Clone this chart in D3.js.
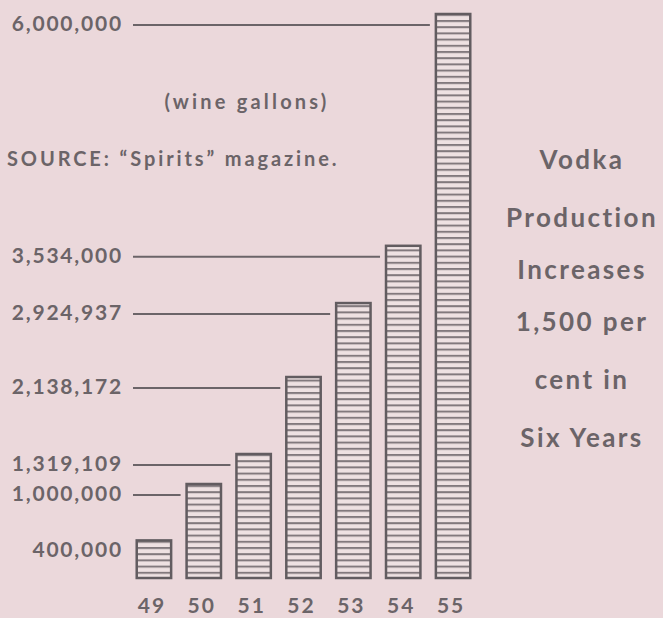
<!DOCTYPE html>
<meta charset="utf-8">
<head>
<style>
  body { margin: 0; background: #ebd8db; }
  svg { display: block; }
  text { fill: #6b6468; font-family: Lato, "DejaVu Sans", sans-serif; font-weight: 700; }
</style>
<script src="https://d3js.org/d3.v7.min.js"></script>
</head>
<body>
<div id="chart"></div>
<script>
// vodka production, wine gallons, 1949-1955
var years = ["49", "50", "51", "52", "53", "54", "55"];
var gallons = [400000, 1000000, 1319109, 2138172, 2924937, 3534000, 6000000];
var titleLines = ["Vodka", "Production", "Increases", "1,500 per", "cent in", "Six Years"];
var unitNote = "(wine gallons)";
var sourceNote = "SOURCE: \u201cSpirits\u201d magazine.";

var width = 663, height = 618;
var ink = "#6b6468";
var fmt = d3.format(",");

var svg = d3.select("#chart").append("svg")
    .attr("width", width)
    .attr("height", height);

svg.append("rect").attr("width", width).attr("height", height).attr("fill", "#ebd8db");

var x = d3.scaleBand()
    .domain(years)
    .range([129, 478])
    .paddingInner(0.31)
    .paddingOuter(0.155);

var y = d3.scaleLinear()
    .domain([0, 6000000])
    .range([578, 14]);

// horizontal rule pattern inside the bars
var pat = svg.append("defs").append("pattern")
    .attr("id", "stripes")
    .attr("patternUnits", "userSpaceOnUse")
    .attr("width", 10)
    .attr("height", 6.2)
    .attr("patternTransform", "translate(0," + y(0) + ")");
pat.append("rect").attr("width", 10).attr("height", 6.2).attr("fill", "#eee1e2");
pat.append("rect").attr("y", 0).attr("width", 10).attr("height", 2).attr("fill", "#82797d");

var data = years.map(function (d, i) { return { year: d, value: gallons[i] }; });

// leader lines from the labels to each bar
svg.append("g").selectAll("line")
    .data(data.filter(function (d) { return d.value > 400000; }))
    .enter().append("line")
    .attr("x1", 133)
    .attr("x2", function (d) { return x(d.year) - 6; })
    .attr("y1", function (d) { return y(d.value) + 11; })
    .attr("y2", function (d) { return y(d.value) + 11; })
    .attr("stroke", ink)
    .attr("stroke-width", 2);

svg.append("g").selectAll("text")
    .data(data)
    .enter().append("text")
    .attr("x", 123)
    .attr("y", function (d) { return y(d.value) + 17; })
    .attr("text-anchor", "end")
    .style("font-size", "21px")
    .style("letter-spacing", "1.8px")
    .text(function (d) { return fmt(d.value); });

svg.append("g").selectAll("rect")
    .data(data)
    .enter().append("rect")
    .attr("x", function (d) { return x(d.year); })
    .attr("y", function (d) { return y(d.value); })
    .attr("width", x.bandwidth())
    .attr("height", function (d) { return y(0) - y(d.value); })
    .attr("fill", "url(#stripes)")
    .attr("stroke", "#625c60")
    .attr("stroke-width", 2.5);

// year labels
svg.append("g").selectAll("text")
    .data(years)
    .enter().append("text")
    .attr("x", function (d) { return x(d) + x.bandwidth() / 2 - 2; })
    .attr("y", 613)
    .attr("text-anchor", "middle")
    .style("font-size", "21px")
    .style("letter-spacing", "2px")
    .text(function (d) { return d; });

svg.append("text")
    .attr("x", 247).attr("y", 109)
    .attr("text-anchor", "middle")
    .style("font-size", "20px")
    .style("letter-spacing", "3.2px")
    .text(unitNote);

svg.append("text")
    .attr("x", 7).attr("y", 166)
    .style("font-size", "20px")
    .style("letter-spacing", "2.9px")
    .text(sourceNote);

var titleY = [169, 227, 279, 331, 389, 447];
svg.append("g").selectAll("text")
    .data(titleLines)
    .enter().append("text")
    .attr("x", 582)
    .attr("y", function (d, i) { return titleY[i]; })
    .attr("text-anchor", "middle")
    .style("font-size", "26px")
    .style("letter-spacing", "2.4px")
    .text(function (d) { return d; });
</script>
</body>
